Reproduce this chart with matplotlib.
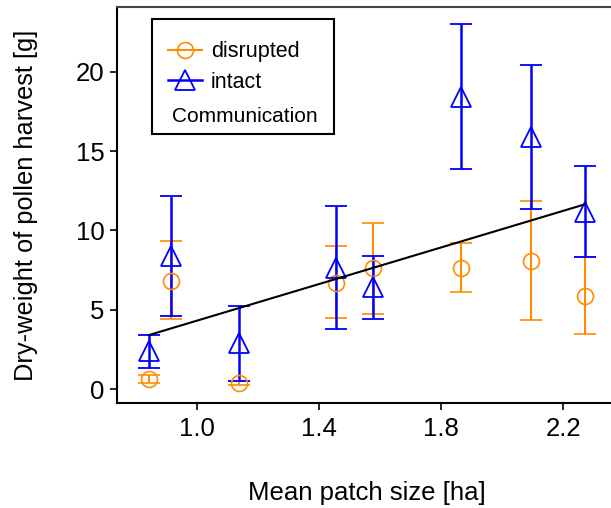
import matplotlib
matplotlib.use("Agg")
import matplotlib.pyplot as plt
from matplotlib.lines import Line2D
from matplotlib.offsetbox import HPacker, DrawingArea

plt.rcParams['font.family'] = ['Liberation Sans', 'DejaVu Sans']

# mean patch size [ha]
patch_size = [0.844, 0.916, 1.137, 1.456, 1.578, 1.866, 2.093, 2.271]

# communication disrupted
disrupted_mean = [0.63, 6.82, 0.38, 6.71, 7.66, 7.66, 8.08, 5.90]
disrupted_low = [0.38, 4.43, 0.25, 4.51, 4.74, 6.11, 4.36, 3.48]
disrupted_high = [0.90, 9.32, 0.52, 9.02, 10.45, 9.19, 11.84, 8.31]

# communication intact
intact_mean = [2.40, 8.40, 2.90, 7.67, 6.42, 18.43, 15.88, 11.19]
intact_low = [1.32, 4.64, 0.52, 3.80, 4.43, 13.87, 11.33, 8.31]
intact_high = [3.42, 12.15, 5.27, 11.54, 8.41, 22.98, 20.42, 14.06]

# fitted line (end points)
fit_x = [0.844, 2.271]
fit_y = [3.42, 11.65]

orange = '#FF8C00'
blue = '#0000FF'

fig = plt.figure(figsize=(6.11, 5.08), dpi=100)
ax = fig.add_axes([0.1915, 0.2067, 0.8185, 0.7795])

d_err = [[m - l for m, l in zip(disrupted_mean, disrupted_low)],
         [h - m for m, h in zip(disrupted_mean, disrupted_high)]]
i_err = [[m - l for m, l in zip(intact_mean, intact_low)],
         [h - m for m, h in zip(intact_mean, intact_high)]]

ax.errorbar(patch_size, disrupted_mean, yerr=d_err, fmt='o', color=orange,
            mfc='none', mec=orange, ms=11.5, mew=1.2, elinewidth=1.5,
            capsize=8, capthick=1.5)
ax.errorbar(patch_size, intact_mean, yerr=i_err, fmt='^', color=blue,
            mfc='none', mec=blue, ms=15, mew=1.3, elinewidth=1.8,
            capsize=8, capthick=1.8)
ax.plot(fit_x, fit_y, color='black', lw=1.5, zorder=5)

ax.set_xlim(0.739, 2.376)
ax.set_ylim(-0.86, 24.07)
ax.set_xticks([1.0, 1.4, 1.8, 2.2])
ax.set_xticklabels(['1.0', '1.4', '1.8', '2.2'])
ax.set_yticks([0, 5, 10, 15, 20])
ax.tick_params(labelsize=18.5, length=5, width=1.2, direction='out')
ax.tick_params(axis='x', pad=5)
ax.tick_params(axis='y', pad=4)

for s in ['left', 'bottom', 'top']:
    ax.spines[s].set_linewidth(1.5)
ax.spines['right'].set_visible(False)
ax.spines['top'].set_color('#444444')

ax.set_xlabel('Mean patch size [ha]', fontsize=18.5, labelpad=29)
ax.set_ylabel('Dry-weight of pollen harvest [g]', fontsize=18.3, labelpad=27)

handles = [
    Line2D([], [], color=orange, marker='o', mfc='none', ms=11.5, mew=1.2, lw=1.5),
    Line2D([], [], color=blue, marker='^', mfc='none', ms=15, mew=1.3, lw=1.8),
]
leg = ax.legend(handles, ['disrupted', 'intact'], title='Communication',
                loc='upper left', bbox_to_anchor=(0.069, 0.97),
                borderaxespad=0, fontsize=15.5, title_fontsize=15,
                fancybox=False, edgecolor='black', framealpha=1,
                handlelength=1.6, handletextpad=0.4, borderpad=0.8,
                labelspacing=0.45, alignment='left')
leg.get_frame().set_linewidth(1.5)

# R-style legend: entries first, title "Communication" underneath
box = leg._legend_box
rows = [
    DrawingArea(1, 0),
    HPacker(children=[DrawingArea(5.8, 0), leg._legend_handle_box], pad=0, sep=0),
    HPacker(children=[DrawingArea(8.6, 0), leg._legend_title_box,
                      DrawingArea(6.5, 0)], pad=0, sep=0),
]
box.get_children()[:] = rows
box.pad = 5.8
box.sep = 10.2
box.set_figure(fig)

fig.savefig('out.png', dpi=100)
